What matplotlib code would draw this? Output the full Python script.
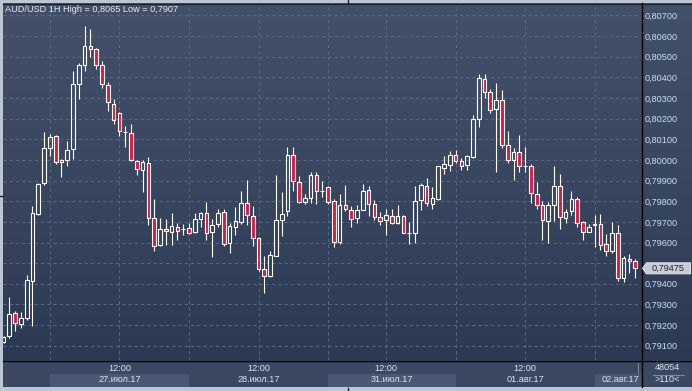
import numpy as np
import matplotlib
matplotlib.use('Agg')
import matplotlib.pyplot as plt
import matplotlib.transforms as mtransforms
from matplotlib.patches import Rectangle, Polygon
from matplotlib.colors import LinearSegmentedColormap

plt.rcParams['font.family'] = ['Liberation Sans', 'DejaVu Sans']

###
### Data (AUD/USD, 1H candles)
###
title = "AUD/USD 1H High = 0,8065 Low = 0,7907"

opens = [0.79118, 0.79145, 0.79257, 0.79205, 0.79233, 0.79414, 0.79736, 0.79888, 0.80060, 0.80118,
         0.79992, 0.80001, 0.80053, 0.80370, 0.80462, 0.80550, 0.80535, 0.80458, 0.80365, 0.80272,
         0.80225, 0.80136, 0.80132, 0.79996, 0.79953, 0.79987, 0.79720, 0.79589, 0.79666, 0.79650,
         0.79676, 0.79665, 0.79671, 0.79650, 0.79715, 0.79744, 0.79649, 0.79691, 0.79750, 0.79597,
         0.79676, 0.79699, 0.79793, 0.79729, 0.79624, 0.79472, 0.79440, 0.79534, 0.79710, 0.79752,
         0.80026, 0.79893, 0.79796, 0.79817, 0.79928, 0.79848, 0.79870, 0.79802, 0.79602, 0.79783,
         0.79759, 0.79718, 0.79759, 0.79856, 0.79788, 0.79723, 0.79710, 0.79729, 0.79695, 0.79729,
         0.79647, 0.79647, 0.79807, 0.79872, 0.79788, 0.79812, 0.79962, 0.79977, 0.80026, 0.79996,
         0.79977, 0.80014, 0.80200, 0.80394, 0.80327, 0.80247, 0.80288, 0.80074, 0.80001, 0.80040,
         0.79969, 0.79972, 0.79836, 0.79783, 0.79704, 0.79783, 0.79875, 0.79718, 0.79752, 0.79812,
         0.79697, 0.79652, 0.79687, 0.79691, 0.79594, 0.79560, 0.79647, 0.79427, 0.79519, 0.79511]
highs = [0.79146, 0.79338, 0.79267, 0.79265, 0.79445, 0.79775, 0.79890, 0.80134, 0.80124, 0.80123,
         0.80004, 0.80092, 0.80432, 0.80470, 0.80649, 0.80634, 0.80542, 0.80477, 0.80377, 0.80297,
         0.80231, 0.80166, 0.80176, 0.80001, 0.80001, 0.80013, 0.79809, 0.79717, 0.79712, 0.79744,
         0.79694, 0.79691, 0.79694, 0.79742, 0.79750, 0.79794, 0.79712, 0.79763, 0.79763, 0.79694,
         0.79770, 0.79848, 0.79901, 0.79775, 0.79629, 0.79537, 0.79561, 0.79925, 0.79843, 0.80061,
         0.80061, 0.79920, 0.79833, 0.79940, 0.79940, 0.79896, 0.79873, 0.79810, 0.79833, 0.79877,
         0.79778, 0.79780, 0.79882, 0.79872, 0.79804, 0.79746, 0.79762, 0.79763, 0.79784, 0.79734,
         0.79697, 0.79872, 0.79888, 0.79912, 0.79869, 0.79972, 0.80017, 0.80042, 0.80050, 0.80009,
         0.80026, 0.80217, 0.80416, 0.80416, 0.80343, 0.80373, 0.80338, 0.80139, 0.80060, 0.80119,
         0.80061, 0.79982, 0.79891, 0.79802, 0.79796, 0.79969, 0.79930, 0.79762, 0.79848, 0.79820,
         0.79702, 0.79692, 0.79731, 0.79739, 0.79642, 0.79697, 0.79687, 0.79535, 0.79542, 0.79522]
lows = [0.79114, 0.79136, 0.79173, 0.79186, 0.79226, 0.79194, 0.79731, 0.79878, 0.80017, 0.79979,
        0.79917, 0.79971, 0.80003, 0.80294, 0.80432, 0.80500, 0.80441, 0.80348, 0.80238, 0.80176,
        0.80116, 0.80063, 0.79995, 0.79928, 0.79844, 0.79686, 0.79558, 0.79585, 0.79589, 0.79589,
        0.79610, 0.79636, 0.79642, 0.79647, 0.79674, 0.79610, 0.79529, 0.79674, 0.79581, 0.79548,
        0.79634, 0.79689, 0.79684, 0.79581, 0.79464, 0.79354, 0.79435, 0.79534, 0.79631, 0.79728,
        0.79849, 0.79791, 0.79788, 0.79791, 0.79786, 0.79820, 0.79786, 0.79577, 0.79595, 0.79752,
        0.79674, 0.79694, 0.79755, 0.79728, 0.79707, 0.79687, 0.79634, 0.79691, 0.79691, 0.79644,
        0.79592, 0.79597, 0.79755, 0.79776, 0.79762, 0.79807, 0.79933, 0.79946, 0.79985, 0.79951,
        0.79951, 0.80008, 0.80157, 0.80302, 0.80229, 0.79941, 0.80058, 0.79985, 0.79901, 0.79941,
        0.79941, 0.79791, 0.79763, 0.79610, 0.79597, 0.79702, 0.79665, 0.79696, 0.79734, 0.79674,
        0.79610, 0.79649, 0.79577, 0.79564, 0.79535, 0.79548, 0.79412, 0.79407, 0.79451, 0.79427]
closes = [0.79142, 0.79254, 0.79208, 0.79234, 0.79416, 0.79744, 0.79885, 0.80060, 0.80113, 0.79990,
          0.80001, 0.80050, 0.80370, 0.80462, 0.80550, 0.80535, 0.80462, 0.80370, 0.80278, 0.80195,
          0.80139, 0.80137, 0.79998, 0.79958, 0.79992, 0.79720, 0.79584, 0.79666, 0.79657, 0.79678,
          0.79655, 0.79666, 0.79647, 0.79715, 0.79744, 0.79647, 0.79687, 0.79744, 0.79594, 0.79678,
          0.79702, 0.79789, 0.79734, 0.79621, 0.79471, 0.79440, 0.79540, 0.79707, 0.79739, 0.80022,
          0.79899, 0.79797, 0.79817, 0.79928, 0.79851, 0.79849, 0.79796, 0.79603, 0.79783, 0.79763,
          0.79713, 0.79759, 0.79851, 0.79788, 0.79723, 0.79705, 0.79734, 0.79695, 0.79729, 0.79647,
          0.79648, 0.79802, 0.79877, 0.79791, 0.79817, 0.79969, 0.79982, 0.80026, 0.79996, 0.79972,
          0.80017, 0.80200, 0.80399, 0.80328, 0.80244, 0.80288, 0.80074, 0.80001, 0.80040, 0.79972,
          0.79970, 0.79841, 0.79783, 0.79710, 0.79783, 0.79875, 0.79723, 0.79749, 0.79812, 0.79695,
          0.79652, 0.79676, 0.79688, 0.79589, 0.79560, 0.79647, 0.79428, 0.79526, 0.79511, 0.79475]

# candle indices of the vertical grid lines (00:00 and 12:00 bars)
grid_bars = [8, 20, 32, 44, 56, 66, 78, 90, 102]
noon_bars = [20, 44, 66, 90]
day_names = ["27.июл.17", "28.июл.17", "31.июл.17", "01.авг.17", "02.авг.17"]
day_start = [8, 32, 56, 78, 102]
day_end = [32, 56, 78, 102, 110]
price_levels = np.round(np.arange(0.791, 0.80701, 0.001), 3)
bars_shown = ">110<"
counter = "48054"

###
### Style
###
W, H = 692, 391
col_up = 'white'
col_dn = '#e3173e'
col_txt = '#d6e3f1'
col_ytxt = '#c9def5'
col_grid = '#586784'

fig = plt.figure(figsize=(W / 100, H / 100), dpi=100)
fig.patch.set_facecolor('#bcc6d2')

# background layer in figure pixels (y down)
bg = fig.add_axes([0, 0, 1, 1], zorder=0)
cmap = LinearSegmentedColormap.from_list('bg', ['#425069', '#39465f', '#2c3953'])
bg.imshow(np.linspace(0, 1, 256).reshape(-1, 1), cmap=cmap,
          extent=(3, W, 360, 3), aspect='auto', interpolation='bilinear')
bg.add_patch(Rectangle((3, 360), W - 3, 27, facecolor='#3b4862', edgecolor='none'))
bg.set_xlim(0, W)
bg.set_ylim(H, 0)
bg.axis('off')

# main price axes
ax = fig.add_axes([3 / W, (H - 360) / H, (641 - 3) / W, (360 - 4) / H], zorder=1)
ax.patch.set_alpha(0)
ax.set_xlim(-0.09, 110.0)
ax.set_ylim(0.79031, 0.80755)

x = np.arange(len(opens))
o = np.array(opens); c = np.array(closes)
hi = np.array(highs); lo = np.array(lows)
body_lo = np.minimum(o, c)
body_hi = np.maximum(o, c)
up = c >= o

lw = 0.8
ax.vlines(x, lo, body_lo, color='white', lw=lw, zorder=2)
ax.vlines(x, body_hi, hi, color='white', lw=lw, zorder=2)
ax.bar(x[up], (body_hi - body_lo)[up], bottom=body_lo[up], width=0.63,
       facecolor='none', edgecolor=col_up, linewidth=lw, zorder=3)
ax.bar(x[~up], (body_hi - body_lo)[~up], bottom=body_lo[~up], width=0.63,
       facecolor=col_dn, edgecolor='white', linewidth=lw, zorder=3)

# last price, its right-axis label is covered by the marker
last = closes[-1]

# grid
ax.set_xticks(grid_bars)
ax.set_xticklabels(['12:00' if b in noon_bars else '' for b in grid_bars])
ax.set_yticks(price_levels)
ax.set_yticklabels(['' if abs(v - last) < 0.0004 else f"{v:.5f}".replace('.', ',')
                    for v in price_levels])
ax.grid(True, color=col_grid, lw=0.75, ls=(0, (3, 3)))
ax.set_axisbelow(True)
ax.yaxis.tick_right()
ax.tick_params(axis='y', length=0, pad=2.3, labelsize=6.6, labelcolor=col_ytxt)
ax.tick_params(axis='x', length=0, pad=3.0, labelsize=6.6, labelcolor=col_txt)
for s in ax.spines.values():
    s.set_visible(False)

# day bands and date labels in the bottom strip
tr = mtransforms.blended_transform_factory(ax.transData, fig.transFigure)
for k, (name, a, b) in enumerate(zip(day_names, day_start, day_end)):
    if k % 2 == 0:
        ax.add_patch(Rectangle((a, 1 - 387 / H), min(b, 110.0) - a, 13 / H,
                               transform=tr, facecolor='#4a5874', edgecolor='none',
                               clip_on=False, zorder=0))
    if k < len(day_names) - 1:
        ax.text((a + b) / 2, 1 - 379.5 / H, name, transform=tr, ha='center', va='center',
                fontsize=6.6, color=col_txt, clip_on=False)
    else:
        ax.text(109.7, 1 - 379.5 / H, name, transform=tr, ha='right', va='center',
                fontsize=6.6, color=col_txt, clip_on=False)

# frame lines
bg.plot([3, W], [3.5, 3.5], color='#1b2230', lw=0.9)
bg.plot([3, W], [360.5, 360.5], color='black', lw=1.0)
bg.plot([641.5, 641.5], [3, 387], color='black', lw=1.0)
bg.plot([637.5, 637.5], [363, 386], color='#7f8ba0', lw=0.7)
bg.plot([347.5, 347.5], [0, 3], color='#1b2230', lw=1.0)
bg.plot([347.5, 347.5], [388, H], color='#1b2230', lw=1.0)
bg.plot([0, 2.5], [195.5, 195.5], color='#1b2230', lw=1.0)

# right bottom counters
bg.text(667, 368, counter, ha='center', va='center', fontsize=6.6, color=col_txt)
bg.plot([653, 684], [374.5, 374.5], color='#7a889e', lw=0.8)
bg.text(667, 380, bars_shown, ha='center', va='center', fontsize=6.6, color=col_txt)

# title
fig.text(4.7 / W, 1 - 9.7 / H, title, ha='left', va='center', fontsize=6.6, color='#e6ecf2')

# last price marker, drawn above the price axes
yl = H - ax.transData.transform((0, last))[1]
lab = fig.add_axes([0, 0, 1, 1], zorder=2)
lab.set_xlim(0, W); lab.set_ylim(H, 0); lab.axis('off')
lab.add_patch(Polygon([[642.5, yl], [646.5, yl - 5.5], [690.5, yl - 5.5],
                       [690.5, yl + 5.5], [646.5, yl + 5.5]], closed=True,
                      facecolor='#c8cdd5', edgecolor='#e4e7eb', lw=0.7))
lab.text(668.5, yl + 0.3, f"{last:.5f}".replace('.', ','), ha='center', va='center',
         fontsize=6.6, color='#1c2434')

fig.savefig('out.png', dpi=100, facecolor=fig.get_facecolor())
